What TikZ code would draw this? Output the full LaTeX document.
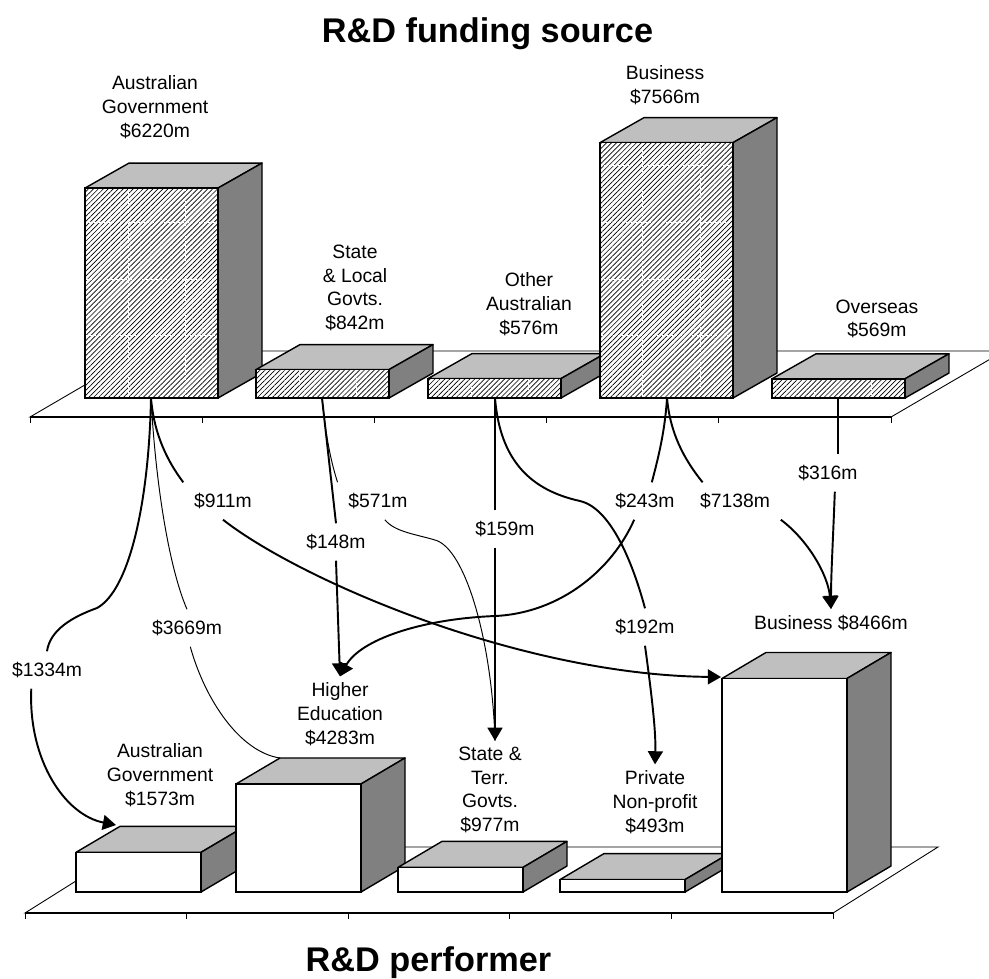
\documentclass[tikz,border=0pt]{standalone}
\usepackage{fontspec}
\setmainfont{Liberation Sans}
\usepackage{tikz}
\usetikzlibrary{arrows.meta}
\usetikzlibrary{patterns.meta}
\tikzset{
  Deckel/.style={fill=gray!50, draw=black, line width=0.8pt, line join=round}, % Oberseite
  Seite/.style={fill=gray, draw=black, line width=0.8pt, line join=round}, % Seitenfläche
  Front/.style={fill=white, draw=black, line width=0.8pt}, % Vorderseite
  Schraffur/.style={preaction={fill=white}, pattern={Lines[angle=45,distance=2pt,line width=0.38pt]}},
  Gitter/.style={white, line width=0.5pt, dash pattern=on 1.5pt off 1pt},
  Boden/.style={draw=black, fill=white, line width=0.5pt},
  Beschriftung/.style={align=center, font=\fontsize{11}{13.5}\selectfont},
  Betrag/.style={font=\fontsize{11}{13.5}\selectfont, inner sep=6pt},
  Titel/.style={font=\fontsize{19.5}{23}\selectfont\bfseries},
  Fluss/.style={line width=1.1pt}, % Geldstrom
  Pfeil/.style={Fluss, -{Triangle[length=7.5pt,width=8.5pt]}},
  Duenn/.style={line width=0.55pt} % dünner Strom
}

\begin{document}
\begin{tikzpicture}[x=0.02cm, y=-0.02cm]
\useasboundingbox (0,0) rectangle (989,978);
%\draw[help lines] (0,0) grid[step=50] (989,978); % Orientierungshilfe

%Boden
\filldraw[Boden] (30,417) -- (891,417) -- (1004,351) -- (143,351) -- cycle;
\draw[line width=0.8pt] (30,417) -- (891,417);
\foreach \t in {0,...,5}
  \draw[Boden] (30+172.2*\t,417) -- ++(0,6);
\filldraw[Boden] (25,913) -- (833,913) -- (938,847) -- (130,847) -- cycle;
\draw[line width=0.8pt] (25,913) -- (833,913);
\foreach \t in {0,...,5}
  \draw[Boden] (25+161.6*\t,913) -- ++(0,6);

%Saeulen Finanzierung
\foreach \bx/\bv in {85/6220,256/842,428/576,600/7566,772/569}{
  \pgfmathsetmacro\bt{398-0.03375*\bv}
  \filldraw[Deckel] (\bx,\bt) -- ++(44,-25) -- ++(133,0) -- ++(-44,25) -- cycle;
  \filldraw[Seite] (\bx+133,\bt) -- ++(44,-25) -- (\bx+177,373) -- (\bx+133,398) -- cycle;
  \fill[Schraffur] (\bx,\bt) rectangle (\bx+133,398);
  \begin{scope}
    \clip (\bx,\bt) rectangle (\bx+133,398);
    \foreach \gy in {165,222,279,335}
      \draw[Gitter] (\bx,\gy) -- ++(133,0);
    \foreach \k in {0,...,13}
      \draw[Gitter] (128+57.2*\k,\bt) -- ++(0,400);
  \end{scope}
  \draw[line width=0.8pt] (\bx,\bt) rectangle (\bx+133,398);
}

%Saeulen Durchfuehrung
\foreach \bx/\bv in {76/1573,236/4283,398/977,560/493,722/8466}{
  \pgfmathsetmacro\bt{892-0.02522*\bv}
  \filldraw[Deckel] (\bx,\bt) -- ++(44,-26) -- ++(125,0) -- ++(-44,26) -- cycle;
  \filldraw[Seite] (\bx+125,\bt) -- ++(44,-26) -- (\bx+169,866) -- (\bx+125,892) -- cycle;
  \filldraw[Front] (\bx,\bt) rectangle (\bx+125,892);
}

%Titel
\node[Titel, anchor=base] (tQuelle) at (487.5,42) {R\&D funding source};
\node[Titel, anchor=base] (tDurch) at (428.5,971) {R\&D performer};

%Beschriftung oben
\node[Beschriftung] (qAG) at (155,107) {Australian\\Government\\\$6220m};
\node[Beschriftung] (qSL) at (355,288) {State\\\& Local\\Govts.\\\$842m};
\node[Beschriftung] (qOA) at (529,304) {Other\\Australian\\\$576m};
\node[Beschriftung] (qBU) at (665,85) {Business\\\$7566m};
\node[Beschriftung] (qOS) at (877,319) {Overseas\\\$569m};

%Beschriftung unten
\node[Beschriftung] (pAG) at (160,775) {Australian\\Government\\\$1573m};
\node[Beschriftung] (pHE) at (340,714) {Higher\\Education\\\$4283m};
\node[Beschriftung] (pST) at (490,790) {State \&\\Terr.\\Govts.\\\$977m};
\node[Beschriftung] (pPN) at (655,802) {Private\\Non-profit\\\$493m};
\node[Beschriftung] (pBU) at (831,623) {Business \$8466m};

%Betraege
\node[Betrag] (f1334) at (47,670) {\$1334m};
\node[Betrag] (f3669) at (187,628) {\$3669m};
\node[Betrag] (f911) at (223,501) {\$911m};
\node[Betrag] (f148) at (336,542) {\$148m};
\node[Betrag] (f571) at (378,501) {\$571m};
\node[Betrag] (f159) at (505,529) {\$159m};
\node[Betrag] (f192) at (645,627) {\$192m};
\node[Betrag] (f243) at (645,501) {\$243m};
\node[Betrag] (f7138) at (735,501) {\$7138m};
\node[Betrag] (f316) at (828,473) {\$316m};

%Anschluesse
\coordinate (sAG) at (151,398);
\coordinate (sSL) at (322,398);
\coordinate (sOA) at (495,398);
\coordinate (sBU) at (667,398);
\coordinate (sOS) at (838,398);
\coordinate (tAG) at (116,825);
\coordinate (tHE) at (280,758);
\coordinate (tBU) at (721,677);

%Stroeme
\draw[Fluss] (sAG) .. controls (149,500) and (130,590) .. (97,608) .. controls (72,617) and (50,630) .. (f1334.north);
\draw[Pfeil] (f1334.-130) .. controls (28,760) and (65,815) .. (tAG);
\draw[Duenn] (sAG) .. controls (156,490) and (170,570) .. (f3669.north);
\draw[Duenn] (f3669.-80) .. controls (205,700) and (240,752) .. (tHE);
\draw[Fluss] (sAG) .. controls (154,435) and (168,462) .. (f911.north west);
\draw[Pfeil] (f911.south) .. controls (300,580) and (520,675) .. (tBU);

\draw[Fluss] (sSL) -- (f148.north);
\draw[Pfeil] (f148.south) -- (pHE.north);
\draw[Duenn] (sSL) .. controls (326,440) and (332,465) .. (f571.north west);
\draw[Duenn] (f571.-70) .. controls (395,532) and (415,534) .. (435,540) .. controls (465,548) and (492,640) .. (sOA |- pST.north);

\draw[Fluss] (sOA) -- (sOA |- f159.north);
\draw[Pfeil] (sOA |- f159.south) -- (sOA |- pST.north);
\draw[Fluss] (sOA) .. controls (500,460) and (530,490) .. (580,501) .. controls (610,508) and (632,560) .. (f192.north);
\draw[Pfeil] (f192.south) .. controls (651,690) and (656,730) .. (pPN.north);

\draw[Fluss] (sBU) .. controls (665,430) and (659,455) .. (f243.70);
\draw[Pfeil] (f243.-120) .. controls (612,570) and (560,613) .. (495,616) .. controls (420,619) and (360,640) .. (pHE.north);
\draw[Fluss] (sBU) .. controls (670,432) and (683,458) .. (f7138.150);
\draw[Pfeil] (f7138.south east) .. controls (808,540) and (828,575) .. (pBU.north);

\draw[Fluss] (sOS) -- (sOS |- f316.north);
\draw[Pfeil] (f316.-70) .. controls (833,540) and (831,575) .. (pBU.north);

\end{tikzpicture}
\end{document}
